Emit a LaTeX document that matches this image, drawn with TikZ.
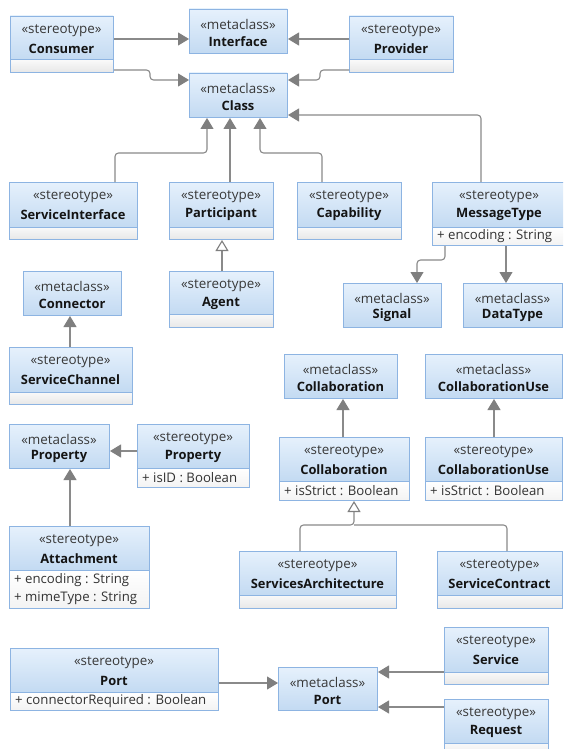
\documentclass[tikz,border=0pt]{standalone}
\usepackage{fontspec}
\setmainfont{Open Sans}
\usetikzlibrary{arrows.meta}
\definecolor{hdTop}{HTML}{E6F1FC}
\definecolor{hdBot}{HTML}{C3DAF2}
\definecolor{bdrC}{HTML}{8DB4E2}
\definecolor{cpTop}{HTML}{F9F9F9}
\definecolor{cpBot}{HTML}{E8E8E8}
\definecolor{atBot}{HTML}{F3F3F3}
\definecolor{lineC}{HTML}{8A8A8A}
\definecolor{arrC}{HTML}{7F7F7F}
\tikzset{
  bdr/.style={draw=bdrC, line width=1pt},
  cgray/.style={top color=cpTop, bottom color=cpBot},
  cwhite/.style={top color=white, bottom color=atBot},
  conn/.style={draw=lineC, line width=1.1pt, rounded corners=3.5pt},
  gen/.style={conn, -{Triangle[length=11pt,width=13pt,color=arrC,fill=arrC]}},
  hgen/.style={conn, -{Triangle[open,length=11pt,width=13pt,color=arrC,fill=white]}},
  stx/.style={font=\fontsize{13.4}{15}\selectfont, text=black!78, inner sep=0},
  ttl/.style={font=\fontsize{12.9}{15}\selectfont\bfseries, text=black!92, inner sep=0},
  atx/.style={font=\fontsize{13.2}{15}\selectfont, text=black!80, inner sep=0, anchor=west},
}
% name, left, top, right, divider, bottom, kind, title, compartment style
\newcommand\ubox[9]{%
  \shade[top color=hdTop,bottom color=hdBot] (#2,#3) rectangle (#4,#5);
  \ifdim#6pt>#5pt
    \shade[#9] (#2,#5) rectangle (#4,#6);
    \draw[bdr] (#2,#5) -- (#4,#5);
  \fi
  \node[bdr, inner sep=0, minimum width={#4-#2}, minimum height={#6-#3}, anchor=north west] (#1) at (#2,#3) {};
  \node[stx] (#1-k) at ({(#2+#4)/2},#3+15) {«#7»};
  \node[ttl] (#1-t) at ({(#2+#4)/2},#3+32.5) {#8};
}
\begin{document}
\begin{tikzpicture}[x=1pt,y=-1pt]
\useasboundingbox (0,0) rectangle (563,749);
\clip (0,0) rectangle (563,749);
\fill[white] (0,0) rectangle (563,749);

% boxes
\ubox{Consumer}{10}{16}{113}{60}{72}{stereotype}{Consumer}{cgray}
\ubox{Interface}{189}{9}{287}{53}{53}{metaclass}{Interface}{}
\ubox{Provider}{349}{16}{453}{60}{72}{stereotype}{Provider}{cgray}
\ubox{Class}{189}{73}{287}{117}{117}{metaclass}{Class}{}
\ubox{SI}{9}{182}{137}{227}{239}{stereotype}{ServiceInterface}{cgray}
\ubox{Participant}{169}{182}{273}{227}{239}{stereotype}{Participant}{cgray}
\ubox{Capability}{297}{182}{401}{227}{239}{stereotype}{Capability}{cgray}
\ubox{MT}{432}{182}{566}{227}{245}{stereotype}{MessageType}{cwhite}
\node[atx] (MT-a) at (437,236) {+ encoding : String};
\ubox{Signal}{343}{283}{441}{327}{327}{metaclass}{Signal}{}
\ubox{DataType}{463}{283}{562}{327}{327}{metaclass}{DataType}{}
\ubox{Connector}{23}{271}{121}{315}{315}{metaclass}{Connector}{}
\ubox{Agent}{169}{271}{273}{314}{327}{stereotype}{Agent}{cgray}
\ubox{SC}{9}{347}{132}{392}{404}{stereotype}{ServiceChannel}{cgray}
\ubox{PropM}{9}{424}{109}{468}{468}{metaclass}{Property}{}
\ubox{PropS}{137}{424}{249}{468}{487}{stereotype}{Property}{cwhite}
\node[atx] (PropS-a) at (142,477.5) {+ isID : Boolean};
\ubox{Att}{9}{526}{149}{570}{608}{stereotype}{Attachment}{cwhite}
\node[atx] (Att-a1) at (14,580) {+ encoding : String};
\node[atx] (Att-a2) at (14,598) {+ mimeType : String};
\ubox{CollM}{284}{354}{397}{398}{398}{metaclass}{Collaboration}{}
\ubox{CUM}{425}{354}{562}{398}{398}{metaclass}{CollaborationUse}{}
\ubox{CollS}{279}{437}{409}{481}{500}{stereotype}{Collaboration}{cwhite}
\node[atx] (CollS-a) at (284,490.5) {+ isStrict : Boolean};
\ubox{CUS}{425}{437}{562}{481}{500}{stereotype}{CollaborationUse}{cwhite}
\node[atx] (CUS-a) at (430,490.5) {+ isStrict : Boolean};
\ubox{SA}{239}{551}{396}{595}{608}{stereotype}{ServicesArchitecture}{cgray}
\ubox{SCon}{437}{551}{562}{595}{608}{stereotype}{ServiceContract}{cgray}
\ubox{PortS}{10}{648}{218}{692}{710}{stereotype}{Port}{cwhite}
\node[atx] (PortS-a) at (15,701) {+ connectorRequired : Boolean};
\ubox{PortM}{278}{667}{377}{710}{710}{metaclass}{Port}{}
\ubox{Service}{444}{627}{548}{672}{684}{stereotype}{Service}{cgray}
\ubox{Request}{444}{699}{548}{743}{760}{stereotype}{Request}{cgray}

% connectors
\draw[gen] (Consumer.east |- 0,39) -- (Interface.west |- 0,39);
\draw[gen] (Provider.west |- 0,39) -- (Interface.east |- 0,39);
\draw[gen] (Consumer.east |- 0,70) -- (150,70) -- (150,80) -- (Class.west |- 0,80);
\draw[gen] (Provider.west |- 0,70) -- (320,70) -- (320,80) -- (Class.east |- 0,80);
\draw[gen] (481,0 |- MT.north) -- (481,115) -- (Class.east |- 0,115);
\draw[gen] (115,0 |- SI.north) -- (115,153) -- (207,153) -- (207,0 |- Class.south);
\draw[gen] (230,0 |- Participant.north) -- (230,0 |- Class.south);
\draw[gen] (322,0 |- Capability.north) -- (322,153) -- (260,153) -- (260,0 |- Class.south);
\draw[hgen] (222,0 |- Agent.north) -- (222,0 |- Participant.south);
\draw[gen] (445,0 |- MT.south) -- (445,260) -- (417,260) -- (417,0 |- Signal.north);
\draw[gen] (506,0 |- MT.south) -- (506,0 |- DataType.north);
\draw[gen] (70,0 |- SC.north) -- (70,0 |- Connector.south);
\draw[gen] (PropS.west |- 0,451) -- (PropM.east |- 0,451);
\draw[gen] (70,0 |- Att.north) -- (70,0 |- PropM.south);
\draw[gen] (343,0 |- CollS.north) -- (343,0 |- CollM.south);
\draw[gen] (494,0 |- CUS.north) -- (494,0 |- CUM.south);
\draw[hgen] (300,0 |- SA.north) -- (300,525) -- (354,525) -- (354,0 |- CollS.south);
\draw[conn] (507,0 |- SCon.north) -- (507,525) -- (354,525);
\draw[gen] (PortS.east |- 0,683) -- (PortM.west |- 0,683);
\draw[gen] (Service.west |- 0,672) -- (PortM.east |- 0,672);
\draw[gen] (Request.west |- 0,707) -- (PortM.east |- 0,707);
\end{tikzpicture}
\end{document}
